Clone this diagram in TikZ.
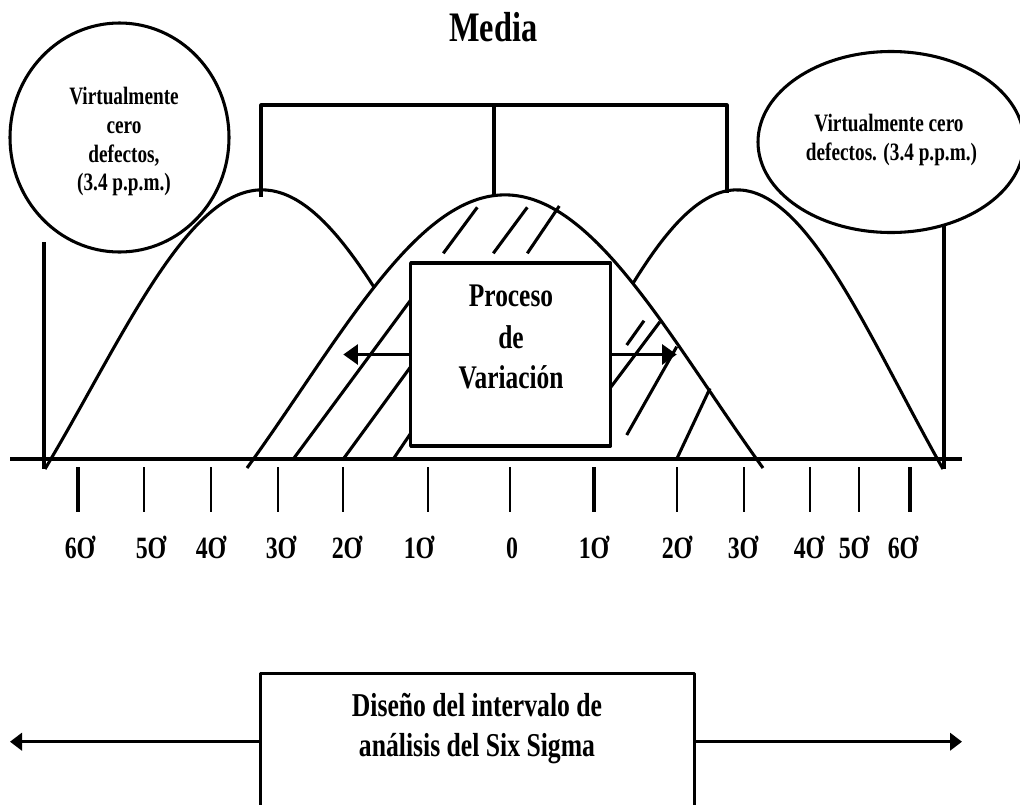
\documentclass[tikz,border=0pt]{standalone}
\usepackage{fontspec}
\setmainfont{Liberation Serif}[FakeStretch=0.77]
\usetikzlibrary{arrows.meta,shapes.geometric}

\begin{document}
\begin{tikzpicture}[x=0.75pt,y=-0.75pt,
  ln/.style={line width=2.3pt,line join=round},
  thin tick/.style={line width=1.6pt},
  thick tick/.style={line width=2.5pt},
  arr/.style={ln,-{Triangle[length=11pt,width=15pt]}},
  arrsmall/.style={ln,-{Triangle[length=9pt,width=13pt]}},
  txt/.style={inner sep=0pt,anchor=base,font=\bfseries},
  declare function={g(\x)=exp(-0.8*\x*\x); bl(\x)=(g(\x)-exp(-0.8))/(1-exp(-0.8));}]

\useasboundingbox (0,0) rectangle (1020,804);
\clip (0,0) rectangle (1020,804);

% title and bracket over the means
\node[txt,font=\bfseries\fontsize{31.5}{36}\selectfont] (media) at (493.3,41.7) {Media};
\draw[ln] (261,197) -- (261,105) -- (727,105) -- (727,193);
\draw[ln] (494,105) -- (494,197);

% left circle
\node[draw,ellipse,ln,minimum width=219*0.75pt,minimum height=229*0.75pt,inner sep=0pt] (lc) at (119.5,137.5) {};
\begin{scope}[txt/.append style={font=\bfseries\fontsize{18.75}{22}\selectfont}]
  \node[txt] (lc1) at (124,104) {Virtualmente};
  \node[txt] (lc2) at (124,133) {cero};
  \node[txt] (lc3) at (124,162) {defectos,};
  \node[txt] (lc4) at (124,190) {(3.4 p.p.m.)};
\end{scope}

% right ellipse
\node[draw,ellipse,ln,minimum width=266*0.75pt,minimum height=181*0.75pt,inner sep=0pt] (rc) at (891,142) {};
\begin{scope}[txt/.append style={font=\bfseries\fontsize{18.75}{22}\selectfont}]
  \node[txt] (rc1) at (889,131.7) {Virtualmente cero};
  \node[txt] (rc2) at (891.5,160) {defectos. (3.4 p.p.m.)};
\end{scope}

% limit lines
\coordinate (ltop) at (44,242);
\coordinate (lbot) at (44,469);
\coordinate (rtop) at (944,226);
\coordinate (rbot) at (944,469);
\draw[ln] (ltop) -- (lbot);
\draw[ln] (rtop) -- (rbot);

% axis
\coordinate (ax0) at (10,459);
\coordinate (ax1) at (962,459);
\draw[ln] (ax0) -- (ax1);

% bell curves
\draw[ln] plot[domain=45:374,samples=120] (\x,{469-279*bl((\x-262)/217)});
\draw[ln] plot[domain=247:763,samples=160] (\x,{468-273*bl((\x-505)/258)});
\draw[ln] plot[domain=633:943,samples=120] (\x,{469-279*bl((\x-737)/206)});

% hatching under the central curve
\draw[ln] (443.3,253.3) -- (477.3,207.3);
\draw[ln] (493.3,253.3) -- (527.3,207.3);
\draw[ln] (527.3,253.3) -- (559.3,206);
\draw[ln] (293.3,459) -- (410.7,300);
\draw[ln] (343.3,459) -- (410.7,366.7);
\draw[ln] (393.3,459) -- (410.7,433.3);
\draw[ln] (626.7,345) -- (644,320.7);
\draw[ln] (610.7,387.3) -- (660,321.7);
\draw[ln] (626.7,435) -- (676.7,346.7);
\draw[ln] (676.7,459) -- (710,388.3);

% process box
\node[draw,ln,fill=white,minimum width=200*0.75pt,minimum height=183*0.75pt,inner sep=0pt] (pbox) at (510.6,354.5) {};
\begin{scope}[txt/.append style={font=\bfseries\fontsize{24.75}{30}\selectfont}]
  \node[txt] (p1) at (511,306) {Proceso};
  \node[txt] (p2) at (511,348) {de};
  \node[txt] (p3) at (511,388) {Variación};
\end{scope}
\coordinate (pl) at (343.3,354.5);
\coordinate (pr) at (676.7,354.5);
\draw[arr] (pbox.west) -- (pl);
\draw[arr] (pbox.east) -- (pr);

% ticks
\foreach \tx in {144,211,278,343,428,510,677,744,810,859}
  \draw[thin tick] (\tx,467) -- (\tx,512);
\foreach \tx in {78,594,910}
  \draw[thick tick] (\tx,467) -- (\tx,512);

% sigma labels
\foreach \lx/\lt [count=\i] in {80/6Ơ,151/5Ơ,211/4Ơ,281/3Ơ,347/2Ơ,419/1Ơ,512/0,594/1Ơ,677/2Ơ,743/3Ơ,809/4Ơ,854/5Ơ,903/6Ơ}
  \node[txt,font=\bfseries\fontsize{23.25}{28}\selectfont] (lab\i) at (\lx,558) {\lt};

% design interval box
\node[draw,ln,minimum width=434*0.75pt,minimum height=137*0.75pt,inner sep=0pt] (dbox) at (477.5,741.7) {};
\begin{scope}[txt/.append style={font=\bfseries\fontsize{25}{30}\selectfont}]
  \node[txt] (d1) at (477,716.7) {Diseño del intervalo de};
  \node[txt] (d2) at (477,756.7) {análisis del Six Sigma};
\end{scope}
\coordinate (dl) at (10,741.7);
\coordinate (dr) at (962,741.7);
\draw[arrsmall] (dbox.west) -- (dl);
\draw[arrsmall] (dbox.east) -- (dr);
\end{tikzpicture}
\end{document}
